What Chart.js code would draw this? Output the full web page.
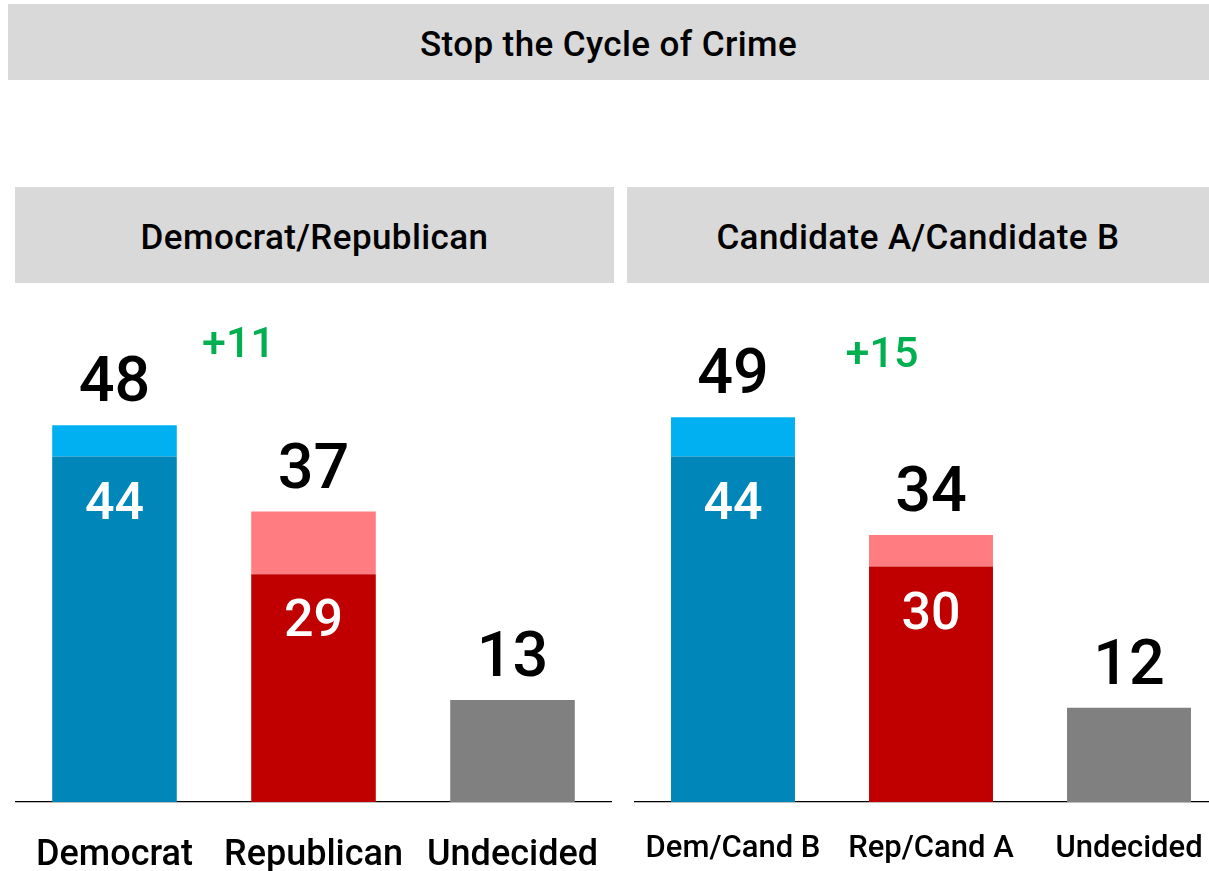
<!DOCTYPE html>
<html>
<head>
<meta charset="utf-8">
<title>Stop the Cycle of Crime</title>
<script src="https://cdn.jsdelivr.net/npm/chart.js@4.4.1/dist/chart.umd.min.js"></script>
<style>
  html, body { margin: 0; padding: 0; background: #fff; width: 1209px; height: 871px; overflow: hidden; }
  .box {
    position: absolute; background: #d9d9d9; color: #000;
    display: flex; align-items: center; justify-content: center;
    font-family: Roboto, "DejaVu Sans", sans-serif; font-weight: 500;
    letter-spacing: 0.4px; box-sizing: border-box; padding-top: 4px;
  }
  #title { left: 8px; top: 4px; width: 1201px; height: 76px; font-size: 35px; }
  #hdrL  { left: 15px; top: 187px; width: 599px; height: 96px; font-size: 35px; }
  #hdrR  { left: 627px; top: 187px; width: 582px; height: 96px; font-size: 35px; }
  .wrap { position: absolute; top: 290px; height: 581px; }
  #wrapL { left: 15px; width: 597px; }
  #wrapR { left: 634px; width: 594px; }
</style>
</head>
<body>
<div class="box" id="title">Stop the Cycle of Crime</div>
<div class="box" id="hdrL">Democrat/Republican</div>
<div class="box" id="hdrR">Candidate A/Candidate B</div>
<div class="wrap" id="wrapL"><canvas id="chartL"></canvas></div>
<div class="wrap" id="wrapR"><canvas id="chartR"></canvas></div>

<script>
// Democrat / Republican ballot
const partyCategories = ['Democrat', 'Republican', 'Undecided'];
const partyTotal = [48, 37, 13];     // total incl. leaners
const partyFirm  = [44, 29, null];   // firm support (no split for undecided)

// Candidate A / Candidate B ballot
const candCategories = ['Dem/Cand B', 'Rep/Cand A', 'Undecided'];
const candTotal = [49, 34, 12];
const candFirm  = [44, 30, null];

const FONT = 'Roboto, "DejaVu Sans", sans-serif';
const firmColors = ['#0086B8', '#C00000', '#808080'];
const leanColors = ['#00B0F0', '#FF7C80', 'rgba(0,0,0,0)'];

// Draws totals above bars, firm values inside bars and the lead margin
const barLabels = {
  id: 'barLabels',
  afterDatasetsDraw(chart, args, opts) {
    const { ctx, scales: { x, y } } = chart;
    const total = opts.total, firm = opts.firm;
    ctx.save();
    ctx.textAlign = 'center';
    ctx.textBaseline = 'alphabetic';
    total.forEach((t, i) => {
      const cx = x.getPixelForValue(i);
      ctx.fillStyle = '#000';
      ctx.font = '500 63px ' + FONT;
      ctx.fillText(String(t), cx, y.getPixelForValue(t) - 24);
      if (firm[i] != null) {
        ctx.fillStyle = '#fff';
        ctx.font = '500 52px ' + FONT;
        ctx.fillText(String(firm[i]), cx, y.getPixelForValue(firm[i]) + 62);
      }
    });
    const lead = total[0] - total[1];
    ctx.fillStyle = '#00B050';
    ctx.font = '500 43px ' + FONT;
    ctx.fillText('+' + lead, x.getPixelForValue(0) + opts.leadDx,
                 y.getPixelForValue(total[0]) + opts.leadDy);
    ctx.restore();
  }
};

function makeChart(id, categories, total, firm, tickSize, tickGap, leadDx, leadDy) {
  const base = total.map((t, i) => firm[i] == null ? t : firm[i]);
  const lean = total.map((t, i) => firm[i] == null ? 0 : t - firm[i]);
  return new Chart(document.getElementById(id), {
    type: 'bar',
    data: {
      labels: categories,
      datasets: [
        { label: 'Firm', data: base, backgroundColor: firmColors },
        { label: 'Lean', data: lean, backgroundColor: leanColors }
      ]
    },
    options: {
      responsive: true,
      maintainAspectRatio: false,
      animation: false,
      layout: { padding: { top: 41, left: 0, right: 0, bottom: 0 } },
      datasets: { bar: { barPercentage: 0.626, categoryPercentage: 1, borderWidth: 0 } },
      scales: {
        x: {
          stacked: true,
          // invisible tick marks set the gap between axis line and labels
          grid: { display: true, drawOnChartArea: false, drawTicks: true,
                  tickLength: tickGap, color: 'rgba(0,0,0,0)' },
          border: { display: true, color: '#000', width: 1.3 },
          afterFit: s => { s.height = 69; },
          ticks: {
            color: '#000', padding: 0, autoSkip: false, maxRotation: 0,
            font: { family: FONT, size: tickSize, weight: '500' }
          }
        },
        y: { stacked: true, min: 0, max: 60, display: false }
      },
      plugins: {
        legend: { display: false },
        tooltip: { enabled: false },
        barLabels: { total, firm, leadDx, leadDy }
      }
    },
    plugins: [barLabels]
  });
}

makeChart('chartL', partyCategories, partyTotal, partyFirm, 36, 32, 124, -68);
makeChart('chartR', candCategories, candTotal, candFirm, 31, 29, 149, -50);
</script>
</body>
</html>
